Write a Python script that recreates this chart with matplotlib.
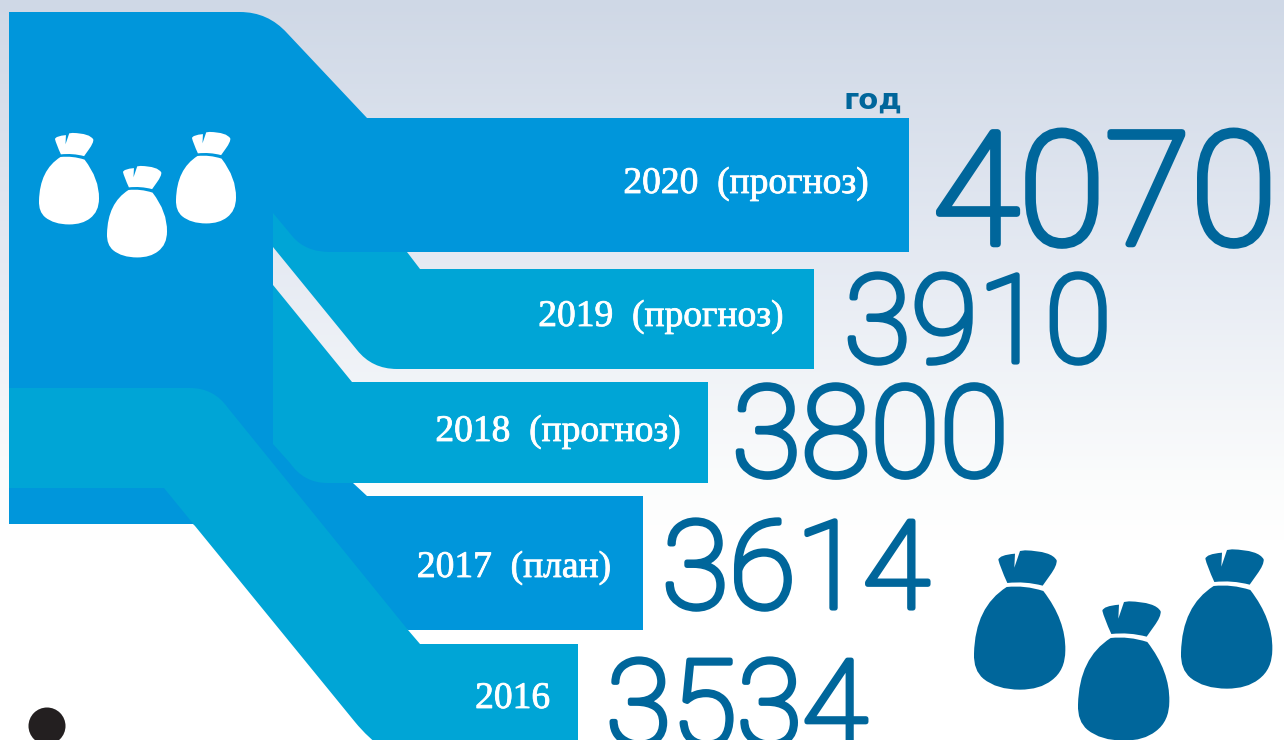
import numpy as np
import matplotlib
matplotlib.use("Agg")
import matplotlib.pyplot as plt
import matplotlib.patheffects as pe
from matplotlib.path import Path
from matplotlib.patches import PathPatch, Circle

# data
labels = ["2020  (прогноз)", "2019  (прогноз)", "2018  (прогноз)", "2017  (план)", "2016"]
values = [4070, 3910, 3800, 3614, 3534]
unit = "год"

# layout, in pixels
bar_ends = [909, 814, 708, 643, 578]
label_right = [868, 783, 680, 611, 550]
label_base = [193, 326, 441, 577, 708]
num_left = [933, 844, 732, 662, 606]
num_base = [244, 362, 476, 608, 745]
num_size = [113, 88, 91, 88, 86]

DARK = "#0096db"
LIGHT = "#00a5d6"
NAVY = "#00669b"

M, L, C, Z = Path.MOVETO, Path.LINETO, Path.CURVE3, Path.CLOSEPOLY


def shape(ax, steps, color, z=2):
    verts = [s[:2] for s in steps] + [steps[0][:2]]
    codes = [M] + [s[2] if len(s) > 2 else L for s in steps[1:]] + [Z]
    ax.add_patch(PathPatch(Path(verts, codes), fc=color, ec="none", zorder=z))


def bag(ax, x0, y0, k, color):
    # outline traced in zoomed pixels of the left navy bag
    body = [(140, 170), (195, 164, C), (250, 182, C), (318, 270, C), (316, 360, C), (316, 420, C), (275, 450, C),
            (240, 478, C), (180, 478, C), (110, 478, C), (70, 445, C), (40, 420, C), (42, 370, C), (45, 230, C), (140, 170, C)]
    knot = [(142, 158), (195, 152, C), (248, 166, C), (270, 135), (292, 105, C), (290, 90, C), (275, 62, C), (195, 60, C),
            (180, 62), (163, 112), (165, 70), (118, 74, C), (115, 88, C), (120, 110, C), (142, 158, C)]
    for part in (body, knot):
        steps = [((p[0] - 42) * k + x0, (p[1] - 170) * k + y0) + tuple(p[2:]) for p in part]
        shape(ax, steps, color, 4)


fig = plt.figure(figsize=(12.84, 7.40), dpi=100)
ax = fig.add_axes([0, 0, 1, 1])
ax.set_xlim(0, 1284)
ax.set_ylim(740, 0)
ax.axis("off")

# background fade
ys = np.arange(740)
stops_y = [0, 250, 480, 540, 740]
rgb = np.stack([np.interp(ys, stops_y, [207, 228, 251, 255, 255]),
                np.interp(ys, stops_y, [216, 233, 252, 255, 255]),
                np.interp(ys, stops_y, [230, 242, 252, 255, 255])], axis=1)[:, None, :] / 255
ax.imshow(rgb, extent=[0, 1284, 740, 0], aspect="auto", zorder=0)

# 2019 band
shape(ax, [(273, 205), (407, 205), (407, 252), (420, 269), (bar_ends[1], 269), (bar_ends[1], 369), (397, 369),
           (372, 369, C), (357, 350, C), (273, 247)], LIGHT, 1)
# main band with column, 2020 and 2017
shape(ax, [(9, 12), (240, 12), (268, 12, C), (287, 33, C), (367, 118), (bar_ends[0], 118), (bar_ends[0], 252), (330, 252),
           (306, 252, C), (293, 237, C), (273, 213), (273, 440), (320, 420), (353, 483), (367, 496),
           (bar_ends[3], 496), (bar_ends[3], 630), (408, 630), (300, 600), (193, 524), (9, 524)], DARK, 2)
# 2018 band
shape(ax, [(273, 285), (352, 382), (bar_ends[2], 382), (bar_ends[2], 483), (327, 483),
           (304, 483, C), (290, 463, C), (273, 444)], LIGHT, 3)
# 2016 band
shape(ax, [(9, 388), (190, 388), (214, 388, C), (228, 408, C), (408, 630), (420, 644), (bar_ends[4], 644), (bar_ends[4], 750),
           (385, 750), (368, 738, C), (355, 722, C), (164, 488), (9, 488)], LIGHT, 3)

ax.add_patch(Circle((47, 726), 18.5, fc="#231f20", ec="none", zorder=3))

for lab, right, base in zip(labels, label_right, label_base):
    ax.text(right, base, lab, ha="right", va="baseline", color="white", fontsize=27,
            family="Liberation Serif", zorder=5,
            path_effects=[pe.withStroke(linewidth=0.6, foreground="white")])

# the only Roboto weight found is very thin, so thicken it with a stroke
for val, left, base, size in zip(values, num_left, num_base, num_size):
    ax.text(left, base, str(val), ha="left", va="baseline", color=NAVY, fontsize=size,
            family="Roboto", fontweight="light", zorder=5, clip_on=True,
            path_effects=[pe.withStroke(linewidth=size * 0.042, foreground=NAVY)])

ax.text(843, 109, unit, ha="left", va="baseline", color=NAVY, fontsize=21, family="DejaVu Sans",
        fontweight="bold", zorder=5)

for x0, y0 in [(39, 157), (107, 190), (176, 156)]:
    bag(ax, x0, y0, 0.219, "white")
for x0, y0 in [(974, 587), (1078, 638), (1181, 586)]:
    bag(ax, x0, y0, 1 / 3, NAVY)

fig.savefig("out.png", dpi=100)
